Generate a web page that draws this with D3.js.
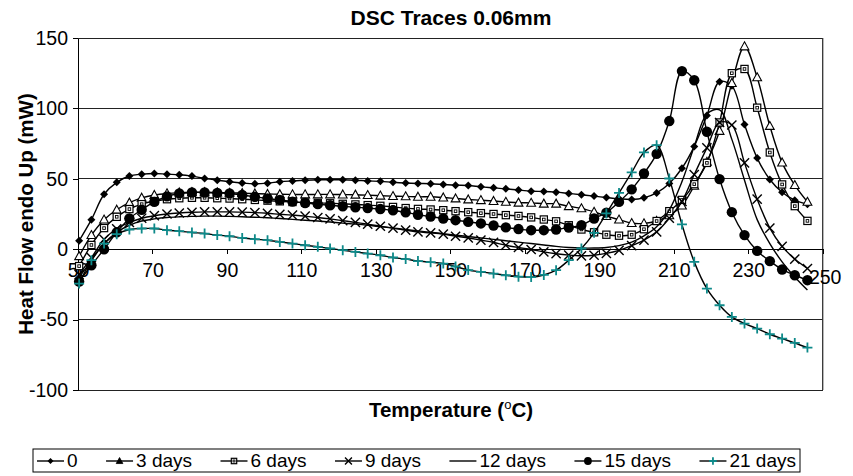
<!DOCTYPE html>
<html lang="en">
<head>
<meta charset="utf-8">
<title>DSC Traces 0.06mm</title>
<script src="https://cdn.jsdelivr.net/npm/d3@7"></script>
<style>
  body { margin: 0; background: #fff; }
  svg { font-family: Arial, "Liberation Sans", sans-serif; }
  .axis path, .axis line { stroke: #000; stroke-width: 1; shape-rendering: crispEdges; }
  .axis text { font-size: 19.5px; fill: #000; }
  .grid line { stroke: #222; stroke-width: 1; shape-rendering: crispEdges; }
</style>
</head>
<body>
<svg width="853" height="476"></svg>
<script>
// temperatures (C) of the sampled points, shared by all traces
var temps = [50.3, 53.6, 57.0, 60.4, 63.8, 67.1, 70.5, 73.9, 77.2, 80.6,
             84.0, 87.4, 90.7, 94.1, 97.5, 100.9, 104.2, 107.6, 111.0, 114.4,
             117.7, 121.1, 124.5, 127.8, 131.2, 134.6, 138.0, 141.3, 144.7, 148.1,
             151.4, 154.8, 158.2, 161.6, 164.9, 168.3, 171.7, 175.1, 178.4, 181.8,
             185.2, 188.6, 191.9, 195.3, 198.7, 202.0, 205.4, 208.8, 212.2, 215.5,
             218.9, 222.3, 225.6, 229.0, 232.4, 235.8, 239.1, 242.5, 245.9];

// heat flow (mW), one array per ageing time
var heat0 = [6, 21, 39, 47.5, 52, 53.3, 53.8, 53.3, 52.9, 51.9,
             50.3, 49, 47.9, 47, 46.5, 46.9, 47.9, 48.5, 49, 49.3,
             49.3, 49.3, 49, 48.5, 48.2, 47.5, 47, 46.7, 46.5, 46,
             45.5, 45.2, 44.3, 43.6, 42.9, 42, 41.2, 41, 40.5, 39.6,
             38.7, 37.7, 36.7, 35.8, 35.3, 36.5, 40, 46.7, 57.5, 73,
             95, 119, 116, 88.5, 64.7, 49.5, 40.5, 34.8, 32];
var heat3 = [-5, 10, 21, 28, 33, 36.5, 38.5, 39.6, 40.2, 40.5,
             40.5, 40.3, 40, 39.8, 39.5, 39.2, 39, 38.9, 38.9, 38.9,
             38.9, 38.8, 38.7, 38.4, 38, 37.7, 37.5, 37.2, 37.2, 36.7,
             36, 35.3, 34.8, 34.2, 33.6, 33, 32.9, 32.3, 32.3, 30.5,
             29, 26.5, 23.5, 21, 18.5, 18.3, 20, 24, 31, 45,
             62, 84, 118, 144, 122, 87.5, 61.5, 45.5, 33.6];
var heat6 = [-12, 3, 15, 23, 28.5, 32, 34.2, 35.5, 36.2, 36.5,
             36.5, 36.2, 36, 35.5, 35, 34.5, 34, 33.5, 33.2, 32.9,
             32.6, 32.2, 31.8, 31.3, 30.8, 30, 29.2, 28.6, 28.2, 27.7,
             27, 26.3, 25.6, 25, 24.2, 23.6, 22.6, 21.1, 19.8, 17,
             14, 12, 10.3, 9.6, 10.3, 14.2, 20, 27, 35, 46.2,
             61.3, 90, 125, 128, 100.5, 68.7, 46, 30.6, 20.1];
var heat9 = [-18, -6, 7, 14.5, 19, 22, 23.8, 25, 25.7, 26.2,
             26.5, 26.5, 26.5, 26.3, 26, 25.5, 24.8, 24.2, 23.5, 22.5,
             21.5, 20.3, 19, 17.8, 16.3, 15, 13.5, 12.3, 11.6, 10.7,
             9.2, 8, 6.4, 4.8, 2.8, 1.2, -0.2, -1.9, -3.2, -4.2,
             -4.7, -4.3, -3, -0.8, 2.5, 6.5, 12.3, 22, 34, 53,
             72, 90, 88.2, 61.3, 35.5, 15, 2, -7, -13.7];
var heat12 = [-20, -8, 4, 12, 17, 20, 21.5, 22.5, 23, 23.3,
              23.5, 23.5, 23.3, 23, 22.7, 22.3, 21.8, 21.2, 20.6, 20,
              19.3, 18.5, 17.8, 17, 16, 15, 14, 13, 12, 11,
              10, 9, 8, 7, 6, 5, 4, 3, 2, 1.2,
              0.8, 0.8, 1.2, 2.5, 5, 9.5, 16, 28, 48, 73,
              96, 99, 78, 49, 21, 4, -9, -19.7, -29];
var heat15 = [-23, -11.4, 0, 12, 21.8, 28, 33.6, 37.5, 39.6, 40.3,
              40.3, 40, 39.6, 38.5, 37.2, 36, 35, 33.8, 32.8, 32,
              31.2, 30.5, 29.8, 29.2, 28.5, 27.7, 26.2, 24.5, 23.2, 21.8,
              20.6, 19.4, 18.3, 16.8, 15.5, 14.3, 13.5, 13.5, 14, 15.4,
              17.1, 21.8, 26, 33.6, 42.5, 53.8, 67.7, 91, 126.5, 120,
              83.4, 49.8, 26.3, 10, -1.2, -8.5, -14.4, -18.5, -22];
var heat21 = [-24.4, -7.8, 4, 10.7, 14, 14.7, 14.7, 13.5, 12.8, 11.9,
              11.1, 10, 9.2, 8, 7.1, 6.4, 5.2, 4, 2.8, 1.7,
              0.5, -0.7, -1.9, -3.1, -4.3, -5.9, -7, -8.4, -9.2, -10.2,
              -12.3, -14.8, -16.1, -17.3, -18.5, -19.5, -19.8, -18.3, -14.9, -7.8,
              0.5, 11.6, 25.4, 40, 54.5, 68.7, 73.9, 50.2, 17.6, -9,
              -28, -39.8, -48.1, -52.8, -56.4, -60.4, -63.5, -66.6, -69.9];

var seriesLabels = ["0", "3 days", "6 days", "9 days", "12 days", "15 days", "21 days"];
var seriesValues = [heat0, heat3, heat6, heat9, heat12, heat15, heat21];
var seriesMarkers = ["diamond", "triangle", "square", "cross", "none", "circle", "plus"];

var xTickValues = [50, 70, 90, 110, 130, 150, 170, 190, 210, 230, 250];
var yTickValues = [-100, -50, 0, 50, 100, 150];

var teal = "#0e8a8a";

var svg = d3.select("svg"),
    margin = {top: 38, right: 30.3, bottom: 86, left: 78},
    width = +svg.attr("width") - margin.left - margin.right,
    height = +svg.attr("height") - margin.top - margin.bottom,
    g = svg.append("g").attr("transform", "translate(" + margin.left + "," + margin.top + ")");

var x = d3.scaleLinear().domain([50, 250]).range([0, width]);
var y = d3.scaleLinear().domain([-100, 150]).range([height, 0]);

// plain hyphen for negatives, like the original
var plainNum = function(d) { return String(d); };

// gridlines
g.append("g")
    .attr("class", "grid")
    .selectAll("line")
    .data(yTickValues.filter(function(v) { return v != 0; }))
    .enter().append("line")
    .attr("x1", 0).attr("x2", width)
    .attr("y1", function(d) { return y(d); })
    .attr("y2", function(d) { return y(d); });

// plot frame (right side)
g.append("line")
    .attr("x1", width).attr("x2", width)
    .attr("y1", 0).attr("y2", height)
    .style("stroke", "#333").style("stroke-width", 1.3);

// y axis
g.append("g")
    .attr("class", "axis axis--y")
    .call(d3.axisLeft(y).tickValues(yTickValues).tickFormat(plainNum)
      .tickSize(5).tickPadding(5).tickSizeOuter(0));

// x axis crosses at zero
var xAxis = g.append("g")
    .attr("class", "axis axis--x")
    .attr("transform", "translate(0," + y(0) + ")")
    .call(d3.axisBottom(x).tickValues(xTickValues).tickFormat(plainNum)
      .tickSize(5).tickPadding(9).tickSizeOuter(0));
xAxis.selectAll(".tick text")
    .filter(function(d) { return d == 250; })
    .attr("dy", "1.05em").attr("dx", "2");

// marker shapes
function addMarker(sel, type, k) {
  k = k || 1;
  if (type == "diamond") {
    sel.append("path").attr("d", "M0,-4L4,0L0,4L-4,0Z")
      .attr("transform", "scale(" + k + ")").style("fill", "#000");
  } else if (type == "triangle") {
    sel.append("path").attr("d", "M0,-4.6L4.4,3.4L-4.4,3.4Z")
      .attr("transform", "scale(" + k + ")")
      .style("fill", k < 1 ? "#000" : "#fff").style("stroke", "#000").style("stroke-width", 1.1);
  } else if (type == "square") {
    sel.append("rect").attr("x", -3.6 * k).attr("y", -3.6 * k)
      .attr("width", 7.2 * k).attr("height", 7.2 * k)
      .style("fill", "#fff").style("stroke", "#000").style("stroke-width", 1.2);
    sel.append("rect").attr("x", -1.3 * k).attr("y", -1.3 * k)
      .attr("width", 2.6 * k).attr("height", 2.6 * k)
      .style("fill", "none").style("stroke", "#000").style("stroke-width", 0.9);
  } else if (type == "cross") {
    sel.append("path").attr("d", "M-4.6,-4.6L4.6,4.6M-4.6,4.6L4.6,-4.6")
      .attr("transform", "scale(" + k + ")")
      .style("stroke", "#000").style("stroke-width", 1.4 / k).style("fill", "none");
  } else if (type == "circle") {
    sel.append("circle").attr("r", 5.2 * k).style("fill", "#000");
  } else if (type == "plus") {
    sel.append("path").attr("d", "M-5,0H5M0,-5V5")
      .attr("transform", "scale(" + k + ")")
      .style("stroke", teal).style("stroke-width", 1.8 / k).style("fill", "none");
  }
}

var line = d3.line()
    .curve(d3.curveCatmullRom.alpha(0.5))
    .x(function(d, i) { return x(temps[i]); })
    .y(function(d) { return y(d); });

seriesValues.forEach(function(vals, si) {
  var sg = g.append("g").attr("class", "series");
  sg.append("path")
    .attr("d", line(vals))
    .style("fill", "none")
    .style("stroke", "#000")
    .style("stroke-width", 1.4);
  if (seriesMarkers[si] != "none") {
    sg.selectAll("g.pt")
      .data(vals)
      .enter().append("g")
      .attr("class", "pt")
      .attr("transform", function(d, i) { return "translate(" + x(temps[i]) + "," + y(d) + ")"; })
      .each(function() { addMarker(d3.select(this), seriesMarkers[si], 1); });
  }
});

// title
svg.append("text")
    .attr("x", 451).attr("y", 25)
    .attr("text-anchor", "middle")
    .style("font-size", "21px").style("font-weight", "bold")
    .text("DSC Traces 0.06mm");

// y axis title
svg.append("text")
    .attr("transform", "translate(33," + (margin.top + height / 2) + ") rotate(-90)")
    .attr("text-anchor", "middle")
    .style("font-size", "20.5px").style("font-weight", "bold")
    .text("Heat Flow endo Up (mW)");

// x axis title
var xt = svg.append("text")
    .attr("x", 451).attr("y", 417)
    .attr("text-anchor", "middle")
    .style("font-size", "20.5px").style("font-weight", "bold");
xt.append("tspan").text("Temperature (");
xt.append("tspan").attr("dy", -8).style("font-size", "13px").style("font-weight", "normal").text("o");
xt.append("tspan").attr("dy", 8).text("C)");

// legend
var legendBox = {x: 33, y: 449, w: 767, h: 23};
var legend = svg.append("g").attr("class", "legend");
legend.append("rect")
    .attr("x", legendBox.x).attr("y", legendBox.y)
    .attr("width", legendBox.w).attr("height", legendBox.h)
    .style("fill", "#fff").style("stroke", "#000").style("stroke-width", 1);

var sampleW = 27, textGap = 3;
var texts = seriesLabels.map(function(lbl) {
  return legend.append("text")
    .attr("y", legendBox.y + 18)
    .style("font-size", "19px")
    .text(lbl);
});
var textTotal = d3.sum(texts, function(t) { return t.node().getComputedTextLength(); });
var spacing = (legendBox.w - 8 - textTotal - seriesLabels.length * (sampleW + textGap)) / (seriesLabels.length - 1);
var cx = legendBox.x + 4;
seriesLabels.forEach(function(lbl, si) {
  var cy = legendBox.y + legendBox.h / 2 + 0.5;
  legend.append("line")
    .attr("x1", cx).attr("x2", cx + sampleW)
    .attr("y1", cy).attr("y2", cy)
    .style("stroke", "#000").style("stroke-width", 1.4);
  var mg = legend.append("g").attr("transform", "translate(" + (cx + sampleW / 2) + "," + cy + ")");
  addMarker(mg, seriesMarkers[si], 0.75);
  texts[si].attr("x", cx + sampleW + textGap);
  cx += sampleW + textGap + texts[si].node().getComputedTextLength() + spacing;
});
</script>
</body>
</html>
